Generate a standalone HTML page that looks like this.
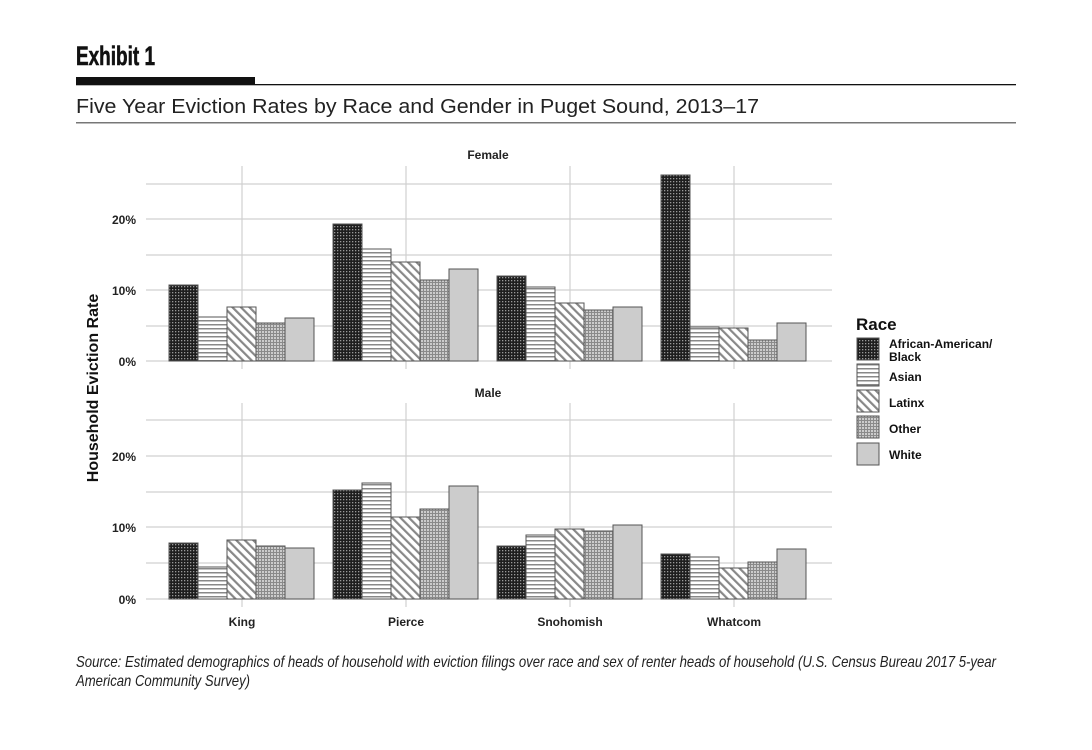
<!DOCTYPE html>
<html><head><meta charset="utf-8"><style>
html,body{margin:0;padding:0;background:#fff;}
svg{display:block;font-family:"Liberation Sans",sans-serif;}
</style></head><body>
<svg width="1092" height="750" viewBox="0 0 1092 750" xmlns="http://www.w3.org/2000/svg">
<defs>
<pattern id="pB" width="3" height="3" patternUnits="userSpaceOnUse"><rect width="3" height="3" fill="#1e1e1e"/><rect x="1" y="1" width="1.3" height="1.3" fill="#999"/></pattern>
<pattern id="pA" width="4" height="4" patternUnits="userSpaceOnUse"><rect width="4" height="4" fill="#fff"/><rect y="0" width="4" height="1.5" fill="#888"/></pattern>
<pattern id="pL" width="6" height="6" patternUnits="userSpaceOnUse" patternTransform="rotate(-45)"><rect width="6" height="6" fill="#fff"/><rect width="2.2" height="6" fill="#888"/></pattern>
<pattern id="pO" width="3" height="3" patternUnits="userSpaceOnUse"><rect width="3" height="3" fill="#ccc"/><rect width="3" height="1" fill="#8a8a8a"/><rect width="1" height="3" fill="#8a8a8a"/></pattern>
</defs>
<text x="76" y="65" font-size="27" font-weight="bold" fill="#111" textLength="79" lengthAdjust="spacingAndGlyphs" stroke="#111" stroke-width="0.6">Exhibit 1</text>
<rect x="76" y="77" width="179" height="7" fill="#111"/>
<rect x="76" y="84" width="940" height="1.3" fill="#111"/>
<text x="76" y="113" font-size="20" fill="#222" textLength="683" lengthAdjust="spacingAndGlyphs">Five Year Eviction Rates by Race and Gender in Puget Sound, 2013–17</text>
<rect x="76" y="122" width="940" height="1.5" fill="#777"/>

<g id="grid" stroke="#d0d0d0" stroke-width="1.2">
<line x1="146" x2="832" y1="184" y2="184"/><line x1="146" x2="832" y1="219" y2="219"/><line x1="146" x2="832" y1="255" y2="255"/><line x1="146" x2="832" y1="290" y2="290"/><line x1="146" x2="832" y1="326" y2="326"/><line x1="146" x2="832" y1="361" y2="361"/>
<line x1="242" x2="242" y1="166" y2="369"/><line x1="406" x2="406" y1="166" y2="369"/><line x1="570" x2="570" y1="166" y2="369"/><line x1="734" x2="734" y1="166" y2="369"/>
<line x1="146" x2="832" y1="420" y2="420"/><line x1="146" x2="832" y1="456" y2="456"/><line x1="146" x2="832" y1="492" y2="492"/><line x1="146" x2="832" y1="527" y2="527"/><line x1="146" x2="832" y1="563" y2="563"/><line x1="146" x2="832" y1="599" y2="599"/>
<line x1="242" x2="242" y1="403" y2="607"/><line x1="406" x2="406" y1="403" y2="607"/><line x1="570" x2="570" y1="403" y2="607"/><line x1="734" x2="734" y1="403" y2="607"/>
</g>
<g font-size="12" font-weight="bold" fill="#222" text-anchor="end">
<text x="136" y="224">20%</text><text x="136" y="295">10%</text><text x="136" y="366">0%</text>
<text x="136" y="461">20%</text><text x="136" y="532">10%</text><text x="136" y="604">0%</text>
</g>
<g font-size="12" font-weight="bold" fill="#222" text-anchor="middle">
<text x="488" y="159">Female</text><text x="488" y="397">Male</text>
<text x="242" y="626">King</text><text x="406" y="626">Pierce</text><text x="570" y="626">Snohomish</text><text x="734" y="626">Whatcom</text>
</g>
<text transform="translate(98,388) rotate(-90)" font-size="16" font-weight="bold" fill="#111" text-anchor="middle">Household Eviction Rate</text>

<g stroke="#555" stroke-width="1">
<rect x="169" y="285" width="29" height="76" fill="url(#pB)"/>
<rect x="198" y="317" width="29" height="44" fill="url(#pA)"/>
<rect x="227" y="307" width="29" height="54" fill="url(#pL)"/>
<rect x="256" y="323" width="29" height="38" fill="url(#pO)"/>
<rect x="285" y="318" width="29" height="43" fill="#ccc"/>
<rect x="333" y="224" width="29" height="137" fill="url(#pB)"/>
<rect x="362" y="249" width="29" height="112" fill="url(#pA)"/>
<rect x="391" y="262" width="29" height="99" fill="url(#pL)"/>
<rect x="420" y="280" width="29" height="81" fill="url(#pO)"/>
<rect x="449" y="269" width="29" height="92" fill="#ccc"/>
<rect x="497" y="276" width="29" height="85" fill="url(#pB)"/>
<rect x="526" y="287" width="29" height="74" fill="url(#pA)"/>
<rect x="555" y="303" width="29" height="58" fill="url(#pL)"/>
<rect x="584" y="310" width="29" height="51" fill="url(#pO)"/>
<rect x="613" y="307" width="29" height="54" fill="#ccc"/>
<rect x="661" y="175" width="29" height="186" fill="url(#pB)"/>
<rect x="690" y="327" width="29" height="34" fill="url(#pA)"/>
<rect x="719" y="328" width="29" height="33" fill="url(#pL)"/>
<rect x="748" y="340" width="29" height="21" fill="url(#pO)"/>
<rect x="777" y="323" width="29" height="38" fill="#ccc"/>
<rect x="169" y="543" width="29" height="56" fill="url(#pB)"/>
<rect x="198" y="567" width="29" height="32" fill="url(#pA)"/>
<rect x="227" y="540" width="29" height="59" fill="url(#pL)"/>
<rect x="256" y="546" width="29" height="53" fill="url(#pO)"/>
<rect x="285" y="548" width="29" height="51" fill="#ccc"/>
<rect x="333" y="490" width="29" height="109" fill="url(#pB)"/>
<rect x="362" y="483" width="29" height="116" fill="url(#pA)"/>
<rect x="391" y="517" width="29" height="82" fill="url(#pL)"/>
<rect x="420" y="509" width="29" height="90" fill="url(#pO)"/>
<rect x="449" y="486" width="29" height="113" fill="#ccc"/>
<rect x="497" y="546" width="29" height="53" fill="url(#pB)"/>
<rect x="526" y="535" width="29" height="64" fill="url(#pA)"/>
<rect x="555" y="529" width="29" height="70" fill="url(#pL)"/>
<rect x="584" y="531" width="29" height="68" fill="url(#pO)"/>
<rect x="613" y="525" width="29" height="74" fill="#ccc"/>
<rect x="661" y="554" width="29" height="45" fill="url(#pB)"/>
<rect x="690" y="557" width="29" height="42" fill="url(#pA)"/>
<rect x="719" y="568" width="29" height="31" fill="url(#pL)"/>
<rect x="748" y="562" width="29" height="37" fill="url(#pO)"/>
<rect x="777" y="549" width="29" height="50" fill="#ccc"/>
<rect x="857" y="338" width="22" height="22" fill="url(#pB)"/>
<rect x="857" y="364" width="22" height="22" fill="url(#pA)"/>
<rect x="857" y="390" width="22" height="22" fill="url(#pL)"/>
<rect x="857" y="416" width="22" height="22" fill="url(#pO)"/>
<rect x="857" y="443" width="22" height="22" fill="#ccc"/>
</g>
<text x="856" y="330" font-size="17" font-weight="bold" fill="#111">Race</text>
<g font-size="12" font-weight="bold" fill="#111">
<text x="889" y="348">African-American/</text><text x="889" y="361">Black</text>
<text x="889" y="381">Asian</text><text x="889" y="407">Latinx</text><text x="889" y="433">Other</text><text x="889" y="459">White</text>
</g>
<g font-size="16" font-style="italic" fill="#222">
<text x="76" y="667" textLength="920" lengthAdjust="spacingAndGlyphs">Source: Estimated demographics of heads of household with eviction filings over race and sex of renter heads of household (U.S. Census Bureau 2017 5-year</text>
<text x="76" y="686" textLength="174" lengthAdjust="spacingAndGlyphs">American Community Survey)</text>
</g>
</svg>
</body></html>
